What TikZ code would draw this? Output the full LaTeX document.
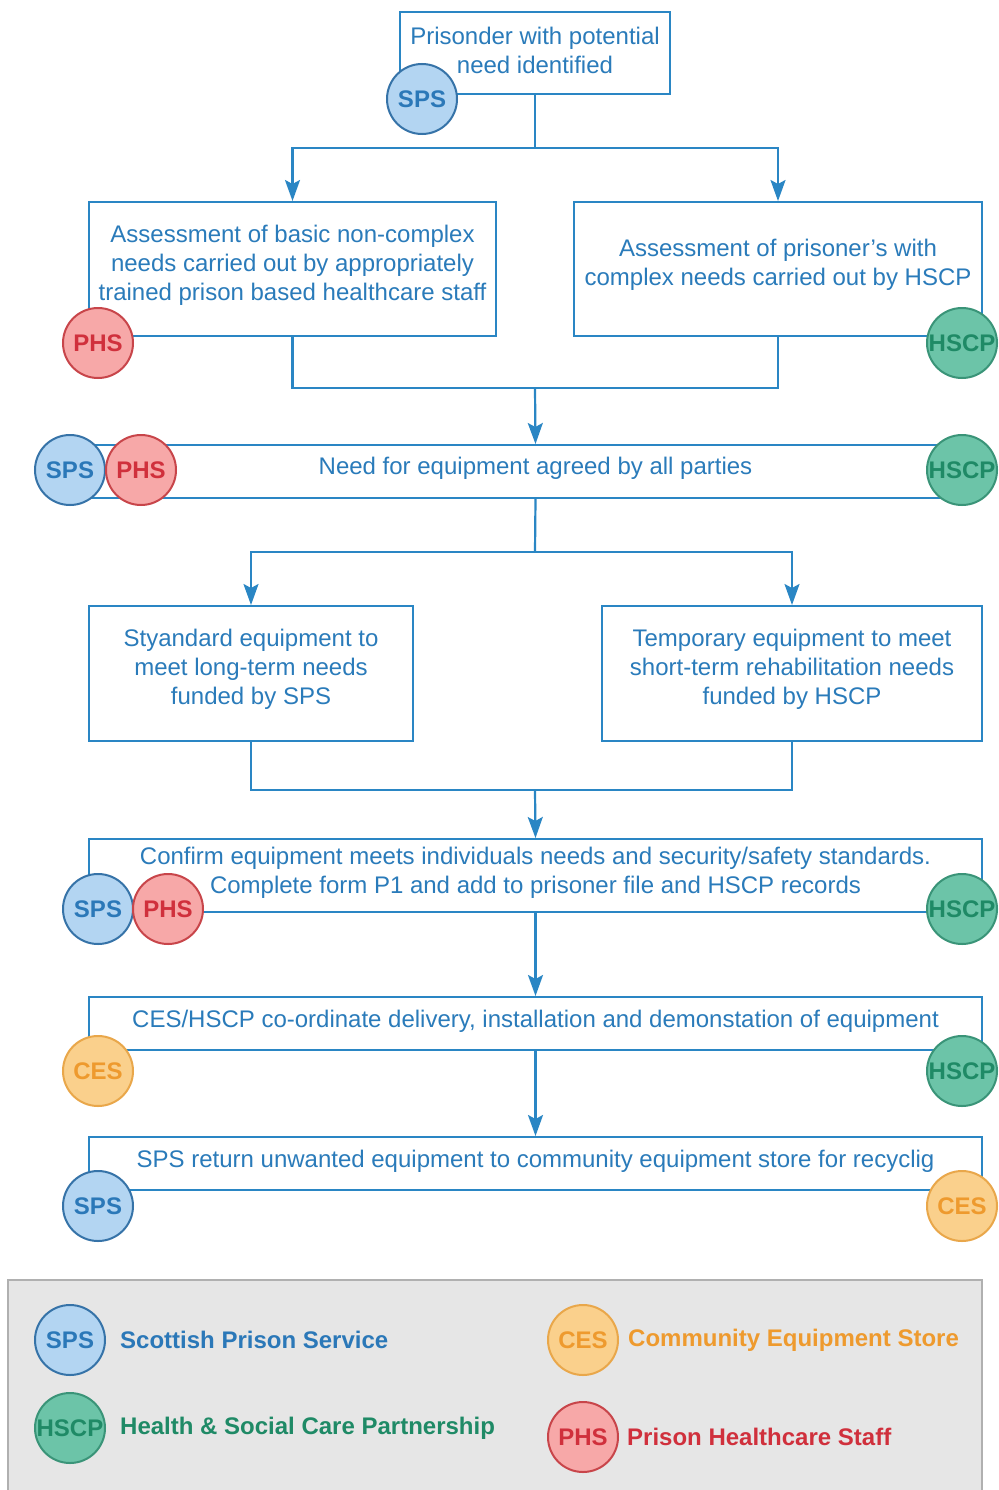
\documentclass[tikz,border=0pt]{standalone}
\usepackage{fontspec}
\setmainfont{Liberation Sans}
\usetikzlibrary{arrows.meta}
\definecolor{boxblue}{HTML}{2A86C4}
\definecolor{txtblue}{HTML}{2A7BBA}
\definecolor{spsfill}{HTML}{B3D5F2}
\definecolor{spsdraw}{HTML}{3673A8}
\definecolor{spstxt}{HTML}{2B78B8}
\definecolor{phsfill}{HTML}{F7A8A8}
\definecolor{phsdraw}{HTML}{C8454A}
\definecolor{phstxt}{HTML}{D0303C}
\definecolor{hscpfill}{HTML}{6CC4A8}
\definecolor{hscpdraw}{HTML}{3A9478}
\definecolor{hscptxt}{HTML}{1F8A66}
\definecolor{cesfill}{HTML}{FAD08C}
\definecolor{cesdraw}{HTML}{E9A74A}
\definecolor{cestxt}{HTML}{EE9A2E}
\definecolor{legbg}{HTML}{E6E6E6}
\definecolor{legdraw}{HTML}{B0B0B0}
\begin{document}
\begin{tikzpicture}[x=1pt,y=-1pt,
  flowbox/.style={draw=boxblue, line width=2pt, fill=white, text=txtblue, align=center,
    font=\fontsize{24}{29}\selectfont, inner sep=0pt},
  flowtext/.style={text=txtblue, align=center, font=\fontsize{24}{29}\selectfont, inner sep=0pt},
  conn/.style={draw=boxblue, line width=2.2pt},
  arr/.style={conn, -{Stealth[length=21pt,width=15pt,inset=4pt]}},
  badge/.style={circle, line width=2pt, minimum size=70pt, inner sep=0pt,
    font=\bfseries\fontsize{24}{24}\selectfont},
  sps/.style={badge, draw=spsdraw, fill=spsfill, text=spstxt},
  phs/.style={badge, draw=phsdraw, fill=phsfill, text=phstxt},
  hscp/.style={badge, draw=hscpdraw, fill=hscpfill, text=hscptxt},
  ces/.style={badge, draw=cesdraw, fill=cesfill, text=cestxt},
  legtext/.style={anchor=west, font=\bfseries\fontsize{24}{24}\selectfont, inner sep=0pt}
]
\useasboundingbox (0,0) rectangle (998,1490);
\fill[white] (0,0) rectangle (998,1490);

% boxes
\node[flowbox, minimum width=270pt, minimum height=82pt] (b1) at (535,53) {};
\node[flowtext] (t1) at (535,50) {Prisonder with potential\\need identified};
\node[flowbox, minimum width=407pt, minimum height=134pt] (b2a) at (292.5,269) {};
\node[flowtext] (t2a) at (292.5,265)
  {Assessment of basic non-complex\\needs carried out by appropriately\\trained prison based healthcare staff};
\node[flowbox, minimum width=408pt, minimum height=134pt] (b2b) at (778,269) {};
\node[flowtext] (t2b) at (778,265)
  {Assessment of prisoner's with\\complex needs carried out by HSCP};
\node[flowbox, minimum width=893pt, minimum height=53pt] (b3) at (535.5,471.5) {};
\node[flowtext] (t3) at (535.5,468) {Need for equipment agreed by all parties};
\node[flowbox, minimum width=324pt, minimum height=135pt] (b4a) at (251,673.5) {};
\node[flowtext] (t4a) at (251,669.5)
  {Styandard equipment to\\meet long-term needs\\funded by SPS};
\node[flowbox, minimum width=380pt, minimum height=135pt] (b4b) at (792,673.5) {};
\node[flowtext] (t4b) at (792,669.5)
  {Temporary equipment to meet\\short-term rehabilitation needs\\funded by HSCP};
\node[flowbox, minimum width=893pt, minimum height=73pt] (b5) at (535.5,875.5) {};
\node[flowtext] (t5) at (535.5,873)
  {Confirm equipment meets individuals needs and security/safety standards.\\Complete form P1 and add to prisoner file and HSCP records};
\node[flowbox, minimum width=893pt, minimum height=53pt] (b6) at (535.5,1023.5) {};
\node[flowtext] (t6) at (535.5,1021)
  {CES/HSCP co-ordinate delivery, installation and demonstation of equipment};
\node[flowbox, minimum width=893pt, minimum height=53pt] (b7) at (535.5,1163.5) {};
\node[flowtext] (t7) at (535.5,1161)
  {SPS return unwanted equipment to community equipment store for recyclig};

% connectors
\coordinate (j1) at (535,148);
\coordinate (j2) at (535,388);
\coordinate (j3) at (535,552);
\coordinate (j4) at (535,790);
\draw[conn] (b1.south) -- (j1);
\draw[arr] (j1) -| (b2a.north);
\draw[arr] (j1) -| (b2b.north);
\draw[conn] (b2a.south) |- (j2) -| (b2b.south);
\draw[arr] (j2) -- (b3.north);
\draw[conn] (b3.south) -- (j3);
\draw[arr] (j3) -| (b4a.north);
\draw[arr] (j3) -| (b4b.north);
\draw[conn] (b4a.south) |- (j4) -| (b4b.south);
\draw[arr] (j4) -- (b5.north);
\draw[arr] (b5.south) -- (b6.north);
\draw[arr] (b6.south) -- (b7.north);

% badges
\node[sps] (c1) at (422,99) {SPS};
\node[phs] (c2) at (98,343) {PHS};
\node[hscp] (c3) at (962,343) {HSCP};
\node[sps] (c4) at (70,470) {SPS};
\node[phs] (c5) at (141,470) {PHS};
\node[hscp] (c6) at (962,470) {HSCP};
\node[sps] (c7) at (98,909) {SPS};
\node[phs] (c8) at (168,909) {PHS};
\node[hscp] (c9) at (962,909) {HSCP};
\node[ces] (c10) at (98,1071) {CES};
\node[hscp] (c11) at (962,1071) {HSCP};
\node[sps] (c12) at (98,1206) {SPS};
\node[ces] (c13) at (962,1206) {CES};

% legend
\draw[legdraw, fill=legbg, line width=2pt] (8,1280) rectangle (982,1500);
\node[sps] (l1) at (70,1340) {SPS};
\node[legtext, text=spstxt] (lt1) at (120,1340) {Scottish Prison Service};
\node[hscp] (l2) at (70,1428) {HSCP};
\node[legtext, text=hscptxt] (lt2) at (120,1428) {Health \& Social Care Partnership};
\node[ces] (l3) at (583,1340) {CES};
\node[legtext, text=cestxt] (lt3) at (628,1340) {Community Equipment Store};
\node[phs] (l4) at (583,1437) {PHS};
\node[legtext, text=phstxt] (lt4) at (627,1437) {Prison Healthcare Staff};
\end{tikzpicture}
\end{document}
